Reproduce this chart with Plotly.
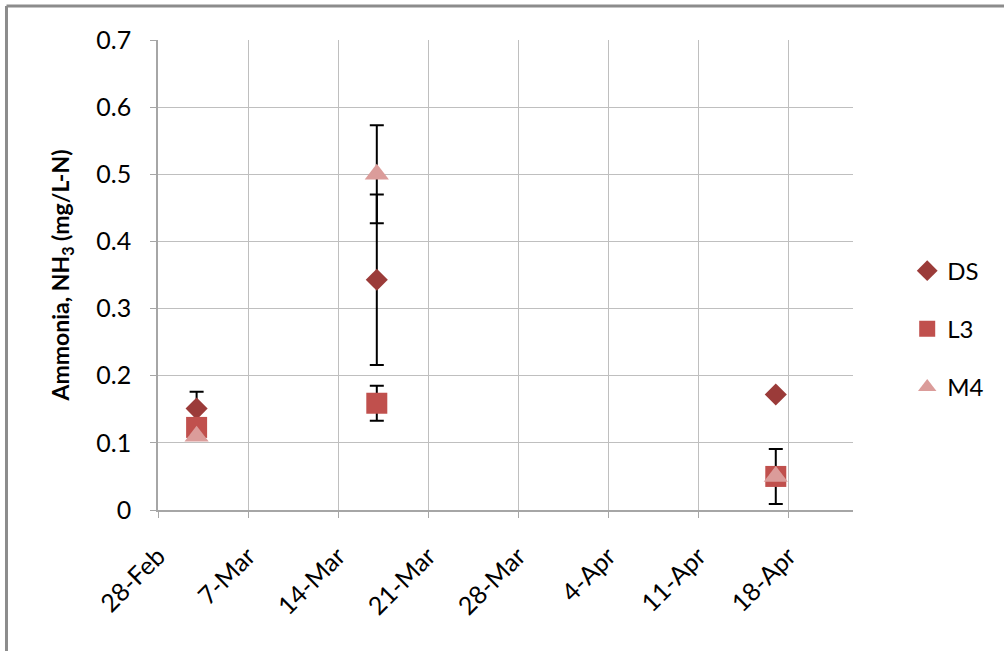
import plotly.graph_objects as go

dates = ["2011-03-03", "2011-03-17", "2011-04-17"]
ds_vals = [0.151, 0.343, 0.172]
ds_err = [0.025, 0.127, 0.0]
l3_vals = [0.123, 0.159, 0.050]
l3_err = [0.0, 0.026, 0.041]
m4_vals = [0.110, 0.500, 0.050]
m4_err = [0.0, 0.073, 0.0]

x_range = ["2011-02-28", "2011-04-23"]
y_ticks = [0, 0.1, 0.2, 0.3, 0.4, 0.5, 0.6, 0.7]

FONT = "Lato"

series = [
    ("DS", ds_vals, ds_err, "diamond", 17, "#9B3B39"),
    ("L3", l3_vals, l3_err, "square", 21, "#C0504D"),
    ("M4", m4_vals, m4_err, "triangle-up", 21, "#DB9C9A"),
]

fig = go.Figure()
for name, vals, err, sym, size, col in series:
    fig.add_trace(go.Scatter(
        x=dates, y=vals, name=name, mode="markers", legendgroup=name,
        marker=dict(symbol=sym, size=size, color=col, line=dict(width=0)),
        error_y=dict(type="data", array=err, visible=True, color="black",
                     thickness=2, width=7),
    ))

fig.update_layout(
    width=1004, height=651,
    margin=dict(l=158, r=151, t=40, b=141),
    paper_bgcolor="white", plot_bgcolor="white",
    font=dict(family=FONT, color="#000000"),
    showlegend=True,
    legend=dict(x=1.078, y=0.385, xanchor="left", yanchor="middle",
                font=dict(size=24, family=FONT), tracegroupgap=24,
                bgcolor="rgba(0,0,0,0)"),
    xaxis=dict(
        type="date", range=x_range, tick0="2011-02-28", dtick=7 * 86400000,
        tickformat="%-d-%b", tickangle=-45, ticks="outside", ticklen=6,
        tickcolor="#A6A6A6", showgrid=True, gridcolor="#BFBFBF", gridwidth=1,
        showline=True, linecolor="#A6A6A6", linewidth=1.5,
        tickfont=dict(size=25, family=FONT), zeroline=False,
        ticklabelstandoff=14,
    ),
    yaxis=dict(
        range=[0, 0.7], tickvals=y_ticks, ticks="outside", ticklen=6,
        tickcolor="#A6A6A6", showgrid=True, gridcolor="#BFBFBF", gridwidth=1,
        showline=True, linecolor="#A6A6A6", linewidth=1.5, zeroline=False,
        tickfont=dict(size=25, family=FONT), ticklabelstandoff=14,
        title=dict(text="<b>Ammonia, NH<sub>3</sub> (mg/L-N)</b>",
                   font=dict(size=23, family=FONT), standoff=20),
    ),
    shapes=[
        dict(type="line", xref="paper", yref="paper", x0=-0.218, x1=1.3,
             y0=1.0723, y1=1.0723, line=dict(color="#8C8C8C", width=3)),
        dict(type="line", xref="paper", yref="paper", x0=-0.218, x1=-0.218,
             y0=1.0723, y1=-0.4, line=dict(color="#8C8C8C", width=3)),
    ],
)

fig.write_html("out.html")
